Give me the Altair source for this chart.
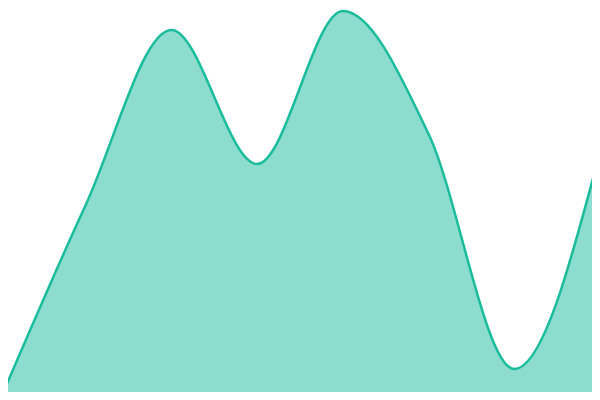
import altair as alt
import pandas as pd

x_vals = [0, 1, 2, 3, 4, 5, 6, 7]
y_vals = [0, 195, 370, 236, 389, 266, 31, 248]

df = pd.DataFrame({"x": x_vals, "y": y_vals})

# The page has an 8px margin on every side; the plot occupies page pixels
# 8..592 x 8..392, so the scale domains show that window of the reference.
x_lo = 8 * 7 / 600
x_hi = 592 * 7 / 600

chart = alt.Chart(df).mark_area(
    interpolate="monotone",
    color="#1abc9c",
    fillOpacity=0.5,
    clip=True,
    line={"color": "#1abc9c", "strokeWidth": 2.5, "clip": True},
).encode(
    x=alt.X("x:Q", axis=None, scale=alt.Scale(domain=[x_lo, x_hi], nice=False, zero=False)),
    y=alt.Y("y:Q", axis=None, scale=alt.Scale(domain=[8, 392], nice=False, zero=False)),
).properties(
    width=584, height=384, padding=0
).configure_view(stroke=None)

chart.save("out.html", embed_options={"renderer": "svg", "actions": False})
